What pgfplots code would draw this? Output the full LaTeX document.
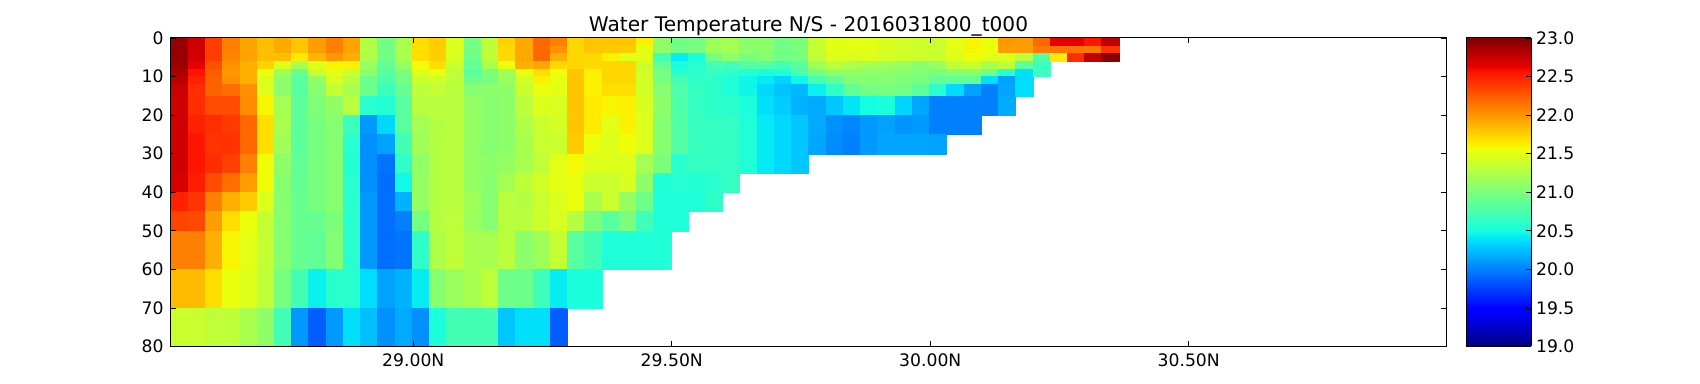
\documentclass[border=0pt]{standalone}
\usepackage{fontspec}
\setmainfont{DejaVu Sans}
\usepackage{pgfplots}
\usepackage{pgfplotstable}
\pgfplotsset{compat=1.18}
\pgfplotsset{colormap={mpljet}{
 rgb(0cm)=(0,0,0.5) rgb(11cm)=(0,0,1) rgb(12.5cm)=(0,0,1) rgb(34cm)=(0,0.86,1)
 rgb(35cm)=(0,0.9,0.968) rgb(37.5cm)=(0.081,1,0.887) rgb(64cm)=(0.935,1,0.032)
 rgb(65cm)=(0.968,0.963,0) rgb(66cm)=(1,0.926,0) rgb(89cm)=(1,0.074,0)
 rgb(91cm)=(0.909,0,0) rgb(100cm)=(0.5,0,0)}}
% one line per latitude column; depth layers 0-2,2-4,4-6,6-8,8-10,10-12,12-15,15-20,20-25,25-30,30-35,35-40,40-45,45-50,50-60,60-70,70-80
\pgfplotstableread[header=false]{
22.92 22.92 22.92 22.9 22.85 22.8 22.75 22.73 22.72 22.72 22.72 22.7 22.5 22.35 22.1 21.85 21.37
22.72 22.72 22.72 22.65 22.56 22.5 22.45 22.45 22.5 22.55 22.55 22.52 22.42 22.33 22.1 21.85 21.38
22.38 22.38 22.38 22.3 22.25 22.23 22.22 22.32 22.45 22.42 22.45 22.32 22.1 21.97 21.9 21.7 21.33
22.1 22.1 22.08 22.03 22.0 22.03 22.17 22.32 22.4 22.43 22.37 22.17 21.9 21.7 21.6 21.55 21.33
21.95 21.95 21.95 21.9 21.9 21.9 22.03 22.05 22.2 22.2 22.1 21.97 21.78 21.55 21.5 21.48 21.22
21.83 21.83 21.83 21.75 21.55 21.47 21.47 21.6 21.7 21.7 21.57 21.57 21.47 21.35 21.35 21.33 21.1
21.92 21.92 21.83 21.48 21.17 21.08 21.08 21.2 21.22 21.18 21.1 21.05 21.05 21.05 21.05 20.98 20.72
21.8 21.8 21.65 21.22 20.88 20.85 20.82 20.85 20.85 20.85 20.87 20.88 20.9 20.9 20.9 20.72 20.1
21.97 21.97 21.87 21.48 21.38 21.1 21.05 21.02 20.98 20.98 20.98 20.98 20.98 20.9 20.87 20.45 19.87
22.1 22.1 22.0 21.6 21.5 21.45 21.35 21.1 21.05 21.05 21.05 21.05 21.05 21.0 21.03 20.6 20.1
21.95 21.95 21.9 21.62 21.38 21.3 21.22 21.3 20.68 20.6 20.57 20.6 20.6 20.6 20.6 20.6 20.38
21.27 21.27 21.25 21.13 21.08 20.93 20.93 20.6 20.1 20.07 20.07 20.07 20.1 20.1 20.1 20.37 20.25
20.97 20.97 20.95 20.87 20.82 20.78 20.68 20.57 20.35 20.13 19.95 19.93 19.93 19.93 19.93 20.13 20.07
21.22 21.22 21.22 21.13 21.0 20.97 20.9 20.83 20.83 20.72 20.63 20.48 20.2 20.0 19.95 20.2 20.17
21.7 21.7 21.7 21.57 21.48 21.38 21.32 21.3 21.2 21.18 21.1 21.13 21.13 20.97 20.63 20.43 20.07
21.77 21.77 21.77 21.7 21.55 21.4 21.35 21.3 21.27 21.27 21.27 21.27 21.27 21.28 21.25 21.05 20.53
21.47 21.47 21.45 21.38 21.33 21.33 21.3 21.3 21.3 21.3 21.3 21.3 21.3 21.32 21.33 21.15 20.72
20.97 20.97 20.93 20.87 20.83 20.93 21.05 21.12 21.12 21.12 21.12 21.12 21.18 21.15 21.22 21.22 20.72
21.33 21.33 21.33 21.22 21.0 20.97 21.08 21.05 21.05 21.05 21.08 21.05 21.05 21.05 21.22 21.33 20.72
21.75 21.72 21.72 21.55 21.18 21.15 21.1 21.08 21.08 21.08 21.12 21.2 21.3 21.3 21.3 20.93 20.28
21.93 21.93 21.93 21.9 21.55 21.42 21.38 21.32 21.27 21.22 21.22 21.33 21.28 21.3 21.08 20.93 20.38
22.2 22.2 22.2 21.93 21.7 21.62 21.55 21.47 21.38 21.38 21.33 21.42 21.38 21.38 21.17 20.7 20.38
22.1 22.03 21.9 21.72 21.57 21.52 21.5 21.45 21.42 21.38 21.5 21.5 21.47 21.45 21.35 20.43 19.87
21.73 21.73 21.73 21.73 21.8 21.8 21.8 21.8 21.8 21.78 21.58 21.53 21.55 21.28 20.83 20.53 nan
21.8 21.8 21.72 21.72 21.62 21.62 21.62 21.65 21.65 21.55 21.48 21.38 21.22 21.0 20.72 20.53 nan
21.8 21.78 21.62 21.73 21.73 21.73 21.7 21.6 21.5 21.47 21.47 21.38 21.38 20.82 20.55 nan nan
21.8 21.77 21.5 21.73 21.73 21.73 21.7 21.62 21.62 21.57 21.47 21.45 21.13 21.0 20.55 nan nan
21.62 21.5 21.5 21.38 21.42 21.42 21.42 21.45 21.47 21.47 21.2 21.1 20.93 20.7 20.55 nan nan
21.1 21.1 20.72 20.88 20.98 20.98 21.05 21.08 21.05 21.05 21.0 20.55 20.55 20.55 20.55 nan nan
20.95 20.95 20.43 20.52 20.6 20.72 20.78 20.78 20.8 20.8 20.6 20.58 20.55 20.55 nan nan nan
20.97 20.97 20.52 20.6 20.6 20.63 20.65 20.65 20.67 20.67 20.65 20.57 20.55 nan nan nan nan
21.17 21.17 20.97 20.72 20.66 20.62 20.62 20.62 20.65 20.65 20.65 20.6 20.62 nan nan nan nan
21.2 21.2 21.08 20.72 20.62 20.55 20.55 20.6 20.65 20.65 20.65 20.65 nan nan nan nan nan
21.08 21.08 20.97 20.8 20.57 20.47 20.47 20.53 20.55 20.55 20.55 nan nan nan nan nan nan
21.08 21.08 21.05 20.8 20.52 20.42 20.35 20.38 20.42 20.42 20.42 nan nan nan nan nan nan
20.95 20.95 20.95 20.72 20.55 20.33 20.27 20.3 20.35 20.35 20.35 nan nan nan nan nan nan
21.0 21.0 20.97 20.83 20.77 20.47 20.22 20.2 20.28 20.28 20.28 nan nan nan nan nan nan
21.36 21.36 21.32 21.17 20.97 20.75 20.45 20.17 20.17 20.15 nan nan nan nan nan nan nan
21.5 21.5 21.47 21.3 21.1 20.88 20.63 20.28 20.07 20.05 nan nan nan nan nan nan nan
21.5 21.5 21.45 21.25 21.1 21.03 20.87 20.4 20.03 20.0 nan nan nan nan nan nan nan
21.5 21.5 21.47 21.2 21.08 21.05 20.97 20.5 20.1 20.1 nan nan nan nan nan nan nan
21.45 21.45 21.42 21.17 21.08 21.05 20.98 20.53 20.13 20.15 nan nan nan nan nan nan nan
21.42 21.42 21.4 21.13 21.05 21.02 20.97 20.33 20.08 20.15 nan nan nan nan nan nan nan
21.4 21.4 21.38 21.07 21.03 20.98 20.85 20.15 20.1 20.15 nan nan nan nan nan nan nan
21.38 21.38 21.38 21.13 21.0 20.88 20.6 20.0 20.0 20.13 nan nan nan nan nan nan nan
21.5 21.5 21.48 21.33 21.05 20.88 20.36 20.0 20.0 nan nan nan nan nan nan nan nan
21.6 21.6 21.55 21.38 21.05 20.88 20.13 20.0 20.0 nan nan nan nan nan nan nan nan
21.55 21.55 21.5 21.22 20.95 20.38 20.0 20.0 nan nan nan nan nan nan nan nan nan
22.0 21.97 21.47 21.33 20.6 20.13 20.15 20.17 nan nan nan nan nan nan nan nan nan
21.98 21.98 21.3 20.85 20.38 20.37 20.37 nan nan nan nan nan nan nan nan nan nan
22.2 22.13 20.8 20.68 20.68 nan nan nan nan nan nan nan nan nan nan nan nan
22.65 22.15 21.65 nan nan nan nan nan nan nan nan nan nan nan nan nan nan
22.66 22.15 22.45 nan nan nan nan nan nan nan nan nan nan nan nan nan nan
22.55 22.13 22.78 nan nan nan nan nan nan nan nan nan nan nan nan nan nan
22.78 22.43 22.97 nan nan nan nan nan nan nan nan nan nan nan nan nan nan
}\T
\def\cellcoords{}
\def\nanstr{nan}
\def\mkcells{%
\pgfplotsforeachungrouped \myc in {0,...,54}{%
  \pgfmathsetmacro\xa{28.5307+\myc*33.346/1000}%
  \pgfmathsetmacro\xb{28.5307+(\myc+1)*33.346/1000}%
  \pgfplotsforeachungrouped \myr in {0,...,16}{%
    \pgfplotstablegetelem{\myc}{[index]\myr}\of\T
    \let\myv\pgfplotsretval
    \ifx\myv\nanstr\else
      \pgfmathsetmacro\ya{{0,2,4,6,8,10,12,15,20,25,30,35,40,45,50,60,70,80}[\myr]}%
      \pgfmathsetmacro\yb{{0,2,4,6,8,10,12,15,20,25,30,35,40,45,50,60,70,80}[\myr+1]}%
      \xdef\cellcoords{\cellcoords (\xa,\ya)[\myv] (\xb,\ya)[\myv] (\xb,\yb)[\myv] (\xa,\yb)[\myv] }%
    \fi
  }%
}}
\def\plotcells#1{\addplot[patch,patch type=rectangle,shader=flat,line width=0.1pt,point meta=explicit] coordinates {#1};}
\begin{document}
\mkcells
\begin{tikzpicture}
\useasboundingbox (0,0) rectangle (850pt,192pt);
\begin{axis}[
  at={(85.33pt,18.75pt)},anchor=south west,
  scale only axis,width=637.9pt,height=154.25pt,
  xmin=28.5307,xmax=30.9985,ymin=0,ymax=80,y dir=reverse,
  xtick={29,29.5,30,30.5},xticklabels={29.00N,29.50N,30.00N,30.50N},
  ytick={0,10,...,80},
  /pgf/number format/assume math mode=true,
  ticklabel style={font=\fontsize{8.6}{10}\selectfont,black},
  tick style={black,line width=0.4pt},
  major tick length=2.75pt,
  axis line style={black,line width=0.5pt},
  axis on top,
  title={Water Temperature N/S - 2016031800\_t000},
  title style={font=\fontsize{10.07}{12}\selectfont,yshift=-8.5pt},
  colormap name=mpljet,
  point meta min=19,point meta max=23,
  colorbar sampled,
  colorbar style={
    samples=257,
    at={(1.0153,1)},anchor=north west,
    width=32.5pt,height=154.25pt,
    ytick={19,19.5,...,23},
    ytick pos=right,
    yticklabel pos=right,
    /pgf/number format/assume math mode=true,
    /pgf/number format/fixed,/pgf/number format/fixed zerofill,/pgf/number format/precision=1,
    yticklabel style={font=\fontsize{8.6}{10}\selectfont,xshift=-1pt,/pgf/number format/fixed,/pgf/number format/fixed zerofill,/pgf/number format/precision=1},
    tick style={black,line width=0.4pt},
    major tick length=2.75pt,
    axis line style={black,line width=0.5pt},
  },
]
\expandafter\plotcells\expandafter{\cellcoords}
\end{axis}
\end{tikzpicture}
\end{document}
